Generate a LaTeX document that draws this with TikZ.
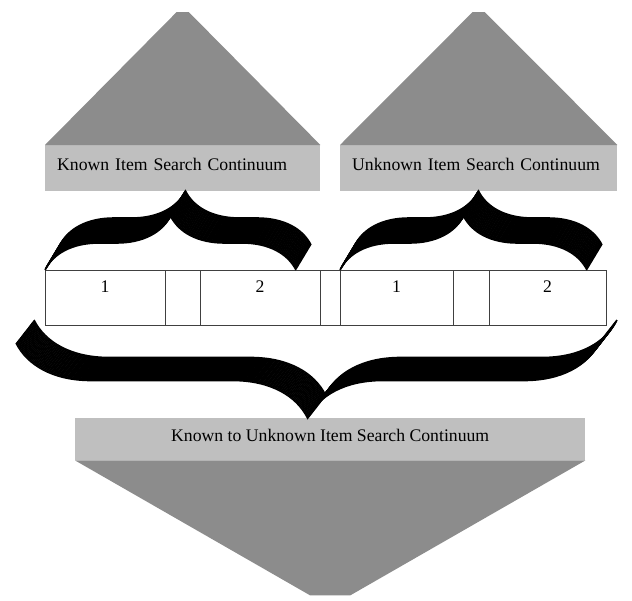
\documentclass[tikz,border=0pt]{standalone}
\usepackage{fontspec}
\setmainfont{Liberation Serif}
\usepackage{tikz}
\usetikzlibrary{positioning,calc,decorations.pathreplacing}
\tikzset{
  lblbox/.style={fill=black!25, inner xsep=12pt, inner ysep=0pt, text depth=8pt, align=left, font=\fontsize{17.7}{20}\selectfont},
  tribox/.style={fill=black!45},
  cell/.style={draw=black!75, line width=0.8pt, minimum height=55pt, inner sep=0pt, outer sep=0pt},
  numtxt/.style={anchor=north, yshift=-7pt, font=\fontsize{17.7}{20}\selectfont},
  bracerib/.style={decorate, decoration={brace, aspect=0.5}, line width=1.6pt, black}
}
\begin{document}
\begin{tikzpicture}[x=1pt, y=-1pt]
\useasboundingbox[fill=white] (0,0) rectangle (632,600);
\node[lblbox, minimum height=46pt, text width=251pt, anchor=north west] (knownlbl) at (45,145) {Known Item Search Continuum};
\node[lblbox, minimum height=46pt, text width=253pt, anchor=north west] (unknownlbl) at (340,145) {Unknown Item Search Continuum};
\node[lblbox, minimum height=42pt, minimum width=510pt, align=center, anchor=north west] (bothlbl) at (75,418) {Known to Unknown Item Search Continuum};
\fill[tribox] (knownlbl.north west) -- ($(knownlbl.north)+(-6,-133)$) -- ($(knownlbl.north)+(6,-133)$) -- (knownlbl.north east) -- cycle;
\fill[tribox] (unknownlbl.north west) -- ($(unknownlbl.north)+(-6,-133)$) -- ($(unknownlbl.north)+(6,-133)$) -- (unknownlbl.north east) -- cycle;
\fill[tribox] (bothlbl.south west) -- ($(bothlbl.south)+(-20,135)$) -- ($(bothlbl.south)+(20,135)$) -- (bothlbl.south east) -- cycle;
\node[cell, minimum width=120pt, anchor=north west, label={[numtxt]north:1}] (c1) at (45,270) {};
\node[cell, minimum width=35pt, right=0pt of c1] (c2) {};
\node[cell, minimum width=120pt, right=0pt of c2, label={[numtxt]north:2}] (c3) {};
\node[cell, minimum width=20pt, right=0pt of c3] (c4) {};
\node[cell, minimum width=113pt, right=0pt of c4, label={[numtxt]north:1}] (c5) {};
\node[cell, minimum width=36pt, right=0pt of c5] (c6) {};
\node[cell, minimum width=117pt, right=0pt of c6, label={[numtxt]north:2}] (c7) {};
\foreach \k in {0,...,25} {
  \draw[bracerib, decoration={amplitude=54pt}, xshift={\k*0.6pt}, yshift={\k*1pt}] (45,270) -- (296,270);
  \draw[bracerib, decoration={amplitude=54pt}, xshift={\k*0.6pt}, yshift={\k*1pt}] (340,270) -- (587,270);
}
\foreach \k in {0,...,23}
  \draw[bracerib, decoration={amplitude=75pt}, xshift={-\k*0.78pt}, yshift={-\k*1pt}] (617,320) -- (34,320);
\end{tikzpicture}
\end{document}
